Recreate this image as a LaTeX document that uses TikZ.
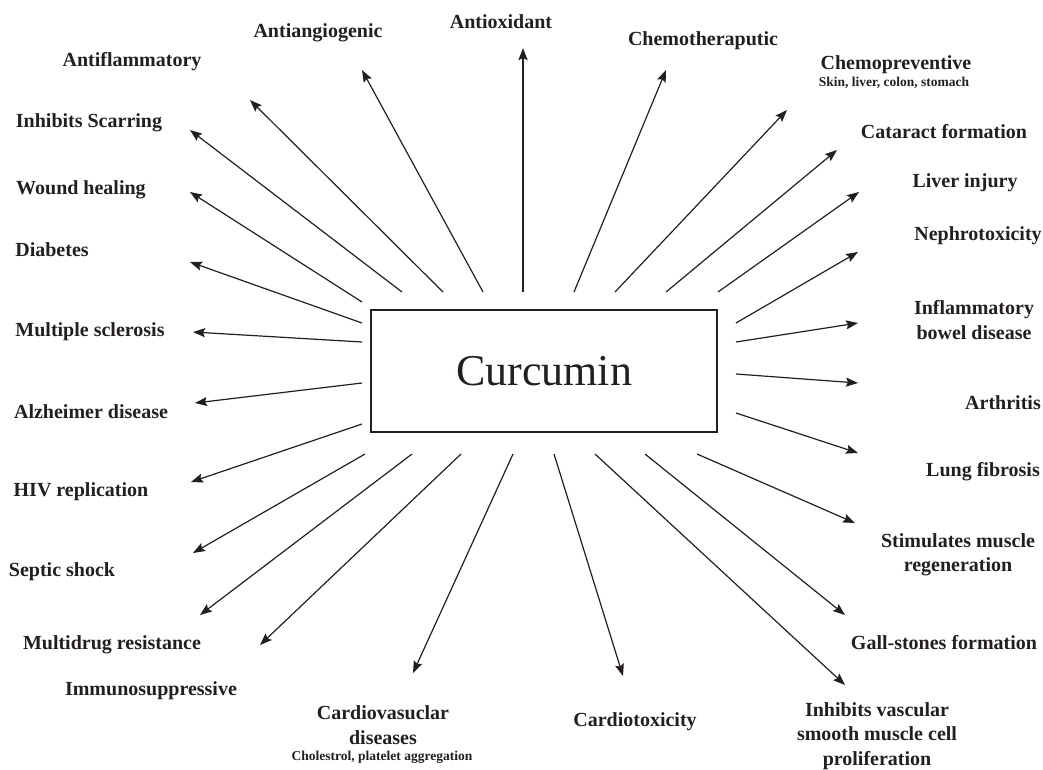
\documentclass[tikz,border=0pt]{standalone}
\usepackage{fontspec}
\setmainfont{Liberation Serif}
\usepackage{tikz}
\usetikzlibrary{arrows.meta,positioning,calc}
\definecolor{inkDark}{HTML}{231F20}

\tikzset{
  hub/.style={draw=inkDark, line width=1.8pt, minimum width=346pt, minimum height=122pt,
    inner sep=0pt, font=\fontsize{44}{50}\selectfont, text=inkDark},
  lbl/.style={font=\bfseries\fontsize{20}{24.5}\selectfont, text=inkDark, align=center, inner sep=0pt},
  sublbl/.style={font=\bfseries\fontsize{13.5}{15}\selectfont, text=inkDark, inner sep=0pt},
  arr/.style={draw=inkDark, line width=1.2pt, -{Stealth[length=12pt,width=9pt,inset=2pt]}},
  arrthick/.style={arr, line width=2.4pt}
}

\begin{document}
\begin{tikzpicture}[x=1pt,y=-1pt]
    \useasboundingbox (0,0) rectangle (1043,769);
    \node[hub] (cur) at (544,371) {Curcumin};

    % labels round the box
    \node[lbl] (tAntiox)  at (501,22)  {Antioxidant};
    \node[lbl] (tAntiang) at (318,33)  {Antiangiogenic};
    \node[lbl] (tAntifl)  at (132,62)  {Antiflammatory};
    \node[lbl] (tScar)    at (89,123)  {Inhibits Scarring};
    \node[lbl] (tWound)   at (81,190)  {Wound healing};
    \node[lbl] (tDiab)    at (52,250)  {Diabetes};
    \node[lbl] (tMS)      at (90,332)  {Multiple sclerosis};
    \node[lbl] (tAlz)     at (91,412)  {Alzheimer disease};
    \node[lbl] (tHIV)     at (81,492)  {HIV replication};
    \node[lbl] (tSeptic)  at (62,572)  {Septic shock};
    \node[lbl] (tMDR)     at (112,645) {Multidrug resistance};
    \node[lbl] (tImmuno)  at (151,691) {Immunosuppressive};
    \node[lbl] (tCardvas) at (383,725) {Cardiovasuclar\\diseases};
    \node[sublbl] (tCardvasSub) at (382,757) {Cholestrol, platelet aggregation};
    \node[lbl] (tCardtox) at (635,722) {Cardiotoxicity};
    \node[lbl] (tVasc)    at (877,736) {Inhibits vascular\\smooth muscle cell\\proliferation};
    \node[lbl] (tGall)    at (944,643) {Gall-stones formation};
    \node[lbl] (tStim)    at (958,555) {Stimulates muscle\\regeneration};
    \node[lbl] (tLung)    at (983,472) {Lung fibrosis};
    \node[lbl] (tArth)    at (1003,403) {Arthritis};
    \node[lbl] (tIBD)     at (974,320) {Inflammatory\\bowel disease};
    \node[lbl] (tNephro)  at (978,236) {Nephrotoxicity};
    \node[lbl] (tLiver)   at (965,183) {Liver injury};
    \node[lbl] (tCatar)   at (944,132) {Cataract formation};
    \node[lbl] (tChemopr) at (896,65)  {Chemopreventive};
    \node[sublbl] (tChemoprSub) at (894,83) {Skin, liver, colon, stomach};
    \node[lbl] (tChemoth) at (703,41)  {Chemotheraputic};

    % arrows: start just off the box, tip near the label
    \coordinate (sAntiox) at (523,292);
    \coordinate (eAntiox) at (523,48);
    \draw[arrthick] (sAntiox) -- (eAntiox);
    \foreach \nm/\sx/\sy/\ex/\ey in {
        Chemoth/574/292/666/70, Chemopr/615/292/787/110, Catar/666/292/837/150,
        Liver/718/292/859/192, Nephro/736/323/858/252, IBD/736/342/858/323,
        Arth/736/374/858/383, Lung/736/413/858/453, Stim/697/454/855/523,
        Gall/645/454/845/615, Vasc/595/454/845/685, Cardtox/554/454/623/676,
        Cardvas/513/454/413/673, Immuno/461/454/260/645, MDR/412/454/200/615,
        Septic/365/454/193/553, HIV/362/424/191/482, Alz/362/383/195/403,
        MS/362/342/193/332, Diab/362/323/190/262, Wound/362/302/190/192,
        Scar/402/292/190/130, Antifl/443/292/250/100, Antiang/483/292/362/70} {
      \coordinate (s\nm) at (\sx,\sy);
      \coordinate (e\nm) at (\ex,\ey);
      \draw[arr] (s\nm) -- (e\nm);
    }
\end{tikzpicture}
\end{document}
